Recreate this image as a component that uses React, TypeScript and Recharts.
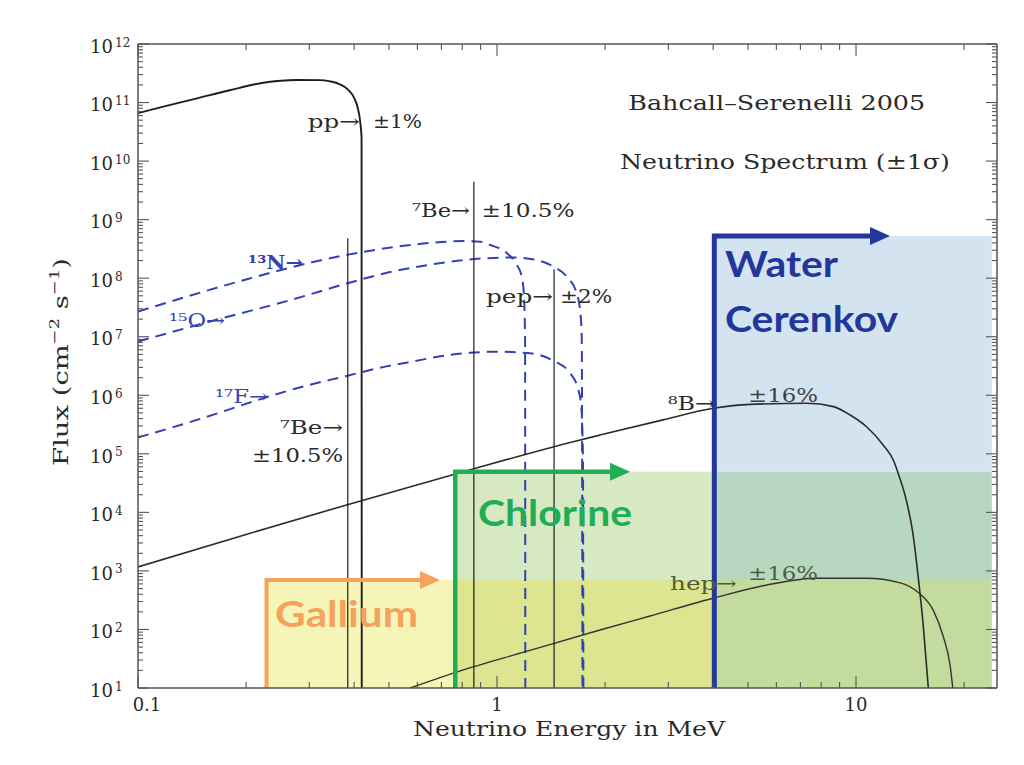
import React from 'react';
import { ComposedChart, Line, XAxis, YAxis, ReferenceArea, ReferenceDot } from 'recharts';

// ---- continuous spectra: energy (MeV) and flux (cm^-2 s^-1 MeV^-1) ----
const ppEnergy = [0.1, 0.1176, 0.146, 0.18, 0.2235, 0.277, 0.32, 0.343, 0.365, 0.385, 0.4, 0.41, 0.416, 0.4195, 0.42];
const ppFlux = [6.6e10, 8.5e10, 1.18e11, 1.62e11, 2.18e11, 2.43e11, 2.42e11, 2.3e11, 2.05e11, 1.65e11, 1.2e11, 7.8e10, 4.6e10, 2.5e10, 10];

const n13Energy = [0.1, 0.2, 0.295, 0.381, 0.5, 0.651, 0.8, 0.9, 0.956, 1.064, 1.135, 1.172, 1.189, 1.197, 1.199];
const n13Flux = [2.7e7, 9.5e7, 1.78e8, 2.5e8, 3.3e8, 4.0e8, 4.3e8, 4.2e8, 3.7e8, 2.7e8, 1.7e8, 1.07e8, 4.8e7, 1.0e7, 10];

const o15Energy = [0.1, 0.173, 0.265, 0.381, 0.5, 0.651, 0.85, 1.1, 1.29, 1.435, 1.563, 1.667, 1.703, 1.722, 1.73];
const o15Flux = [8.3e6, 2.1e7, 4.2e7, 8.1e7, 1.26e8, 1.7e8, 2.1e8, 2.26e8, 2.04e8, 1.58e8, 1.07e8, 5.5e7, 2.9e7, 1.0e7, 10];

const f17Energy = [0.1, 0.15, 0.2235, 0.277, 0.381, 0.472, 0.585, 0.724, 0.841, 1.0, 1.236, 1.435, 1.597, 1.685, 1.714, 1.735, 1.74];
const f17Flux = [1.9e5, 4.0e5, 8.9e5, 1.32e6, 2.14e6, 2.95e6, 3.8e6, 4.8e6, 5.3e6, 5.56e6, 5.2e6, 3.9e6, 2.4e6, 1.23e6, 7.2e5, 1.0e5, 10];

const b8Energy = [0.1, 0.2, 0.381, 0.806, 1.63, 1.935, 2.9, 4.0, 5.06, 7.29, 8.66, 9.63, 10.7, 11.9, 12.7, 13.2, 13.8, 14.4, 14.9, 15.4, 15.9];
const b8Flux = [1.17e3, 4.2e3, 1.34e4, 4.95e4, 1.61e5, 2.09e5, 3.8e5, 6.0e5, 7.0e5, 7.3e5, 6.4e5, 4.6e5, 2.9e5, 1.42e5, 7.85e4, 4.07e4, 1.63e4, 4.4e3, 7.9e2, 1.12e2, 10];

const hepEnergy = [0.573, 0.806, 1.2, 1.935, 2.67, 4.0, 5.64, 7.77, 10.7, 13.2, 15.0, 16.4, 17.5, 18.3, 18.6];
const hepFlux = [10, 20.4, 41.7, 97.7, 170, 341, 575, 748, 748, 631, 415, 214, 75.9, 23.4, 10];

// ---- line spectra (7Be, 7Be, pep): energy (MeV), flux (cm^-2 s^-1) ----
const lineEnergy = [0.384, 0.862, 1.442];
const lineFlux = [4.8e8, 4.45e9, 1.42e8];

// ---- detector thresholds ----
const detectorNames = ['Gallium', 'Chlorine', 'Water Cerenkov'];
const detectorThreshold = [0.228, 0.765, 4.03];
const detectorTop = [700, 4.95e4, 5.26e8];
const detectorArrowEnd = [0.61, 2.065, 10.94];
const detectorFillEnd = 23.9;

// ---- axes ----
const xDomain = [0.1, 24.7];
const yDomain = [10, 1e12];
const xDecades = [0.1, 1, 10];
const yDecades = [1, 2, 3, 4, 5, 6, 7, 8, 9, 10, 11, 12];
const minorSteps = [2, 3, 4, 5, 6, 7, 8, 9];
const xTickLabels = ['0.1', '1', '10'];

const FLOOR = yDomain[0];
const SERIF = "'DejaVu Serif', serif";
const SANS = "Lato, 'Open Sans', sans-serif";
const INK = '#2a2a2a';
const AXIS = '#555';
const CNO = '#3342b0';
const ORANGE = '#f5a25c';
const GREEN = '#1fae55';
const NAVY = '#23379a';

const xTicks: number[] = [];
xDecades.forEach((d) => {
  xTicks.push(d);
  minorSteps.forEach((k) => {
    const v = +(k * d).toPrecision(6);
    if (v <= xDomain[1]) xTicks.push(v);
  });
});
const yTicks: number[] = [];
yDecades.forEach((n) => {
  yTicks.push(Math.pow(10, n));
  if (n < 12) minorSteps.forEach((k) => yTicks.push(k * Math.pow(10, n)));
});

const isMajor = (v: number) => Math.abs(Math.log10(v) - Math.round(Math.log10(v))) < 1e-9;
const zip = (es: number[], fs: number[]) => es.map((e, i) => ({ e, f: fs[i] }));

const LeftTick = (p: any) => {
  const { x, y, payload } = p;
  const v = payload.value;
  const maj = isMajor(v);
  return (
    <g>
      <line x1={x} x2={x + (maj ? 11 : 5)} y1={y} y2={y} stroke={AXIS} strokeWidth={1.1} />
      {maj && (
        <g>
          <text x={x - 25} y={y + 8.7} textAnchor="end" fontFamily={SERIF} fontSize={18} fill={INK}>10</text>
          <text x={x - 23} y={y + 2.5} textAnchor="start" fontFamily={SERIF} fontSize={12} fill={INK}>
            {Math.round(Math.log10(v))}
          </text>
        </g>
      )}
    </g>
  );
};
const RightTick = (p: any) => {
  const { x, y, payload } = p;
  const maj = isMajor(payload.value);
  return <line x1={x} x2={x - (maj ? 11 : 5)} y1={y} y2={y} stroke={AXIS} strokeWidth={1.1} />;
};
const BottomTick = (p: any) => {
  const { x, y, payload } = p;
  const v = payload.value;
  const maj = isMajor(v);
  const idx = xDecades.findIndex((d) => Math.abs(d - v) < 1e-9);
  return (
    <g>
      <line x1={x} x2={x} y1={y} y2={y - (maj ? 12 : 6)} stroke={AXIS} strokeWidth={1.1} />
      {maj && idx >= 0 && (
        <text x={x + (idx === 0 ? 9 : 0)} y={y + 23} textAnchor="middle" fontFamily={SERIF} fontSize={18} fill={INK}>
          {xTickLabels[idx]}
        </text>
      )}
    </g>
  );
};
const TopTick = (p: any) => {
  const { x, y, payload } = p;
  const maj = isMajor(payload.value);
  return <line x1={x} x2={x} y1={y} y2={y + (maj ? 12 : 6)} stroke={AXIS} strokeWidth={1.1} />;
};

type TextOpts = { size?: number; fill?: string; anchor?: string; len?: number; weight?: string | number; family?: string };
const txt = (x: number, y: number, s: React.ReactNode, o: TextOpts = {}) => (
  <text
    x={x}
    y={y}
    fontFamily={o.family ?? SERIF}
    fontSize={o.size ?? 19}
    fill={o.fill ?? INK}
    textAnchor={(o.anchor as any) ?? 'start'}
    textLength={o.len}
    lengthAdjust="spacingAndGlyphs"
    fontWeight={o.weight ?? 'normal'}
  >
    {s}
  </text>
);

const note = (key: string, e: number, f: number, draw: (cx: number, cy: number) => React.ReactNode) => (
  <ReferenceDot
    key={key}
    x={e}
    y={f}
    r={0}
    ifOverflow="visible"
    fill="none"
    stroke="none"
    shape={(p: any) => <g>{draw(p.cx, p.cy)}</g>}
  />
);

export default function App() {
  const [ga, cl, wc] = detectorThreshold;
  const [gaTop, clTop, wcTop] = detectorTop;
  const end = detectorFillEnd;
  const regions = [
    { x1: ga, x2: cl, y1: FLOOR, y2: gaTop, fill: '#f6f5b8' },
    { x1: cl, x2: wc, y1: FLOOR, y2: gaTop, fill: '#dde590' },
    { x1: cl, x2: wc, y1: gaTop, y2: clTop, fill: '#d6e9c3' },
    { x1: wc, x2: end, y1: FLOOR, y2: gaTop, fill: '#c3dc9e' },
    { x1: wc, x2: end, y1: gaTop, y2: clTop, fill: '#b7d7c1' },
    { x1: wc, x2: end, y1: clTop, y2: wcTop, fill: '#d4e3f0' },
  ];
  const detColors = [ORANGE, GREEN, NAVY];
  const detWidths = [4, 4.5, 5];

  const spectra = [
    { key: 'pp', d: zip(ppEnergy, ppFlux), stroke: '#1e1e1e', w: 1.9, dash: undefined },
    { key: 'n13', d: zip(n13Energy, n13Flux), stroke: CNO, w: 2, dash: '11 7' },
    { key: 'o15', d: zip(o15Energy, o15Flux), stroke: CNO, w: 2, dash: '11 7' },
    { key: 'f17', d: zip(f17Energy, f17Flux), stroke: CNO, w: 2, dash: '11 7' },
    { key: 'b8', d: zip(b8Energy, b8Flux), stroke: '#2b2b2b', w: 1.6, dash: undefined },
    { key: 'hep', d: zip(hepEnergy, hepFlux), stroke: '#333', w: 1.4, dash: undefined },
  ];

  return (
    <ComposedChart width={1010} height={750} margin={{ top: 35, right: 20, bottom: 30, left: 70 }}>
      <XAxis
        xAxisId={0}
        dataKey="e"
        type="number"
        scale="log"
        domain={xDomain}
        allowDataOverflow
        ticks={xTicks}
        interval={0}
        tickSize={0}
        tickMargin={0}
        tickLine={false}
        tick={BottomTick}
        axisLine={{ stroke: AXIS, strokeWidth: 1.5 }}
        height={40}
        label={{
          content: (lp: any) => {
            const vb = lp.viewBox || {};
            return (
              <text x={vb.x + vb.width / 2 + 1.5} y={vb.y + 48} textAnchor="middle" fontFamily={SERIF} fontSize={20} fill={INK} textLength={312} lengthAdjust="spacingAndGlyphs">
                Neutrino Energy in MeV
              </text>
            );
          },
        }}
      />
      <XAxis
        xAxisId="t"
        dataKey="e"
        orientation="top"
        type="number"
        scale="log"
        domain={xDomain}
        allowDataOverflow
        ticks={xTicks}
        interval={0}
        tickSize={0}
        tickMargin={0}
        tickLine={false}
        tick={TopTick}
        axisLine={{ stroke: AXIS, strokeWidth: 1.5 }}
        height={1}
      />
      <YAxis
        yAxisId={0}
        type="number"
        scale="log"
        domain={yDomain}
        allowDataOverflow
        ticks={yTicks}
        interval={0}
        tickSize={0}
        tickMargin={0}
        tickLine={false}
        tick={LeftTick}
        axisLine={{ stroke: AXIS, strokeWidth: 1.5 }}
        width={60}
        label={{
          content: (lp: any) => {
            const vb = lp.viewBox || {};
            const cx = vb.x - 17;
            const cy = vb.y + vb.height / 2 - 4;
            return (
              <text x={cx} y={cy} transform={`rotate(-90 ${cx} ${cy})`} textAnchor="middle" dominantBaseline="central" fontFamily={SERIF} fontSize={20} fill={INK} textLength={208} lengthAdjust="spacingAndGlyphs">
                Flux (cm<tspan dy={-7} fontSize={13}>−2</tspan><tspan dy={7}> s</tspan><tspan dy={-7} fontSize={13}>−1</tspan><tspan dy={7}>)</tspan>
              </text>
            );
          },
        }}
      />
      <YAxis
        yAxisId="r"
        orientation="right"
        type="number"
        scale="log"
        domain={yDomain}
        allowDataOverflow
        ticks={yTicks}
        interval={0}
        tickSize={0}
        tickMargin={0}
        tickLine={false}
        tick={RightTick}
        axisLine={{ stroke: AXIS, strokeWidth: 1.5 }}
        width={1}
      />

      {regions.map((r, i) => (
        <ReferenceArea key={`reg${i}`} xAxisId={0} yAxisId={0} x1={r.x1} x2={r.x2} y1={r.y1} y2={r.y2} fill={r.fill} fillOpacity={1} stroke="none" ifOverflow="hidden" />
      ))}

      {spectra.map((s) => (
        <Line
          key={s.key}
          xAxisId={0}
          yAxisId={0}
          data={s.d}
          dataKey="f"
          type="monotone"
          stroke={s.stroke}
          strokeWidth={s.w}
          strokeDasharray={s.dash}
          dot={false}
          activeDot={false}
          isAnimationActive={false}
        />
      ))}

      {lineEnergy.map((e, i) => (
        <Line
          key={`line${i}`}
          xAxisId={0}
          yAxisId={0}
          data={[{ e, f: FLOOR }, { e, f: lineFlux[i] }]}
          dataKey="f"
          type="linear"
          stroke="#1e1e1e"
          strokeWidth={1.2}
          dot={false}
          activeDot={false}
          isAnimationActive={false}
        />
      ))}

      {detectorNames.map((n, i) => (
        <Line
          key={`det${i}`}
          xAxisId={0}
          yAxisId={0}
          data={[
            { e: detectorThreshold[i], f: FLOOR },
            { e: detectorThreshold[i], f: detectorTop[i] },
            { e: detectorArrowEnd[i], f: detectorTop[i] },
          ]}
          dataKey="f"
          type="linear"
          stroke={detColors[i]}
          strokeWidth={detWidths[i]}
          strokeLinejoin="miter"
          dot={false}
          activeDot={false}
          isAnimationActive={false}
        />
      ))}
      {detectorNames.map((n, i) =>
        note(`arrow${i}`, detectorArrowEnd[i], detectorTop[i], (cx, cy) => (
          <polygon points={`${cx},${cy - 9} ${cx + 20},${cy} ${cx},${cy + 9}`} fill={detColors[i]} />
        ))
      )}

      {/* annotations */}
      {note('t1', 2.32, 7.5e10, (x, y) => txt(x, y, 'Bahcall–Serenelli 2005', { size: 20, len: 297 }))}
      {note('t2', 2.2, 7.24e9, (x, y) => txt(x, y, 'Neutrino Spectrum (±1σ)', { size: 20, len: 330 }))}
      {note('pp1', 0.415, 3.63e10, (x, y) => txt(x, y, 'pp→', { anchor: 'end', len: 52 }))}
      {note('pp2', 0.4515, 3.63e10, (x, y) => txt(x, y, '±1%', { len: 49 }))}
      {note('be1', 0.841, 1.12e9, (x, y) => txt(x, y, '⁷Be→', { anchor: 'end', len: 58 }))}
      {note('be2', 0.906, 1.12e9, (x, y) => txt(x, y, '±10.5%', { len: 93 }))}
      {note('pep1', 1.432, 3.73e7, (x, y) => txt(x, y, 'pep→', { anchor: 'end', len: 67 }))}
      {note('pep2', 1.498, 3.73e7, (x, y) => txt(x, y, '±2%', { len: 52 }))}
      {note('be3', 0.3724, 2.18e5, (x, y) => txt(x, y, '⁷Be→', { anchor: 'end', len: 63 }))}
      {note('be4', 0.3724, 7.35e4, (x, y) => txt(x, y, '±10.5%', { anchor: 'end', len: 91 }))}
      {note('n13', 0.2025, 1.42e8, (x, y) => txt(x, y, '¹³N→', { fill: CNO, weight: 'bold', len: 55 }))}
      {note('o15', 0.1221, 1.49e7, (x, y) => txt(x, y, '¹⁵O→', { fill: CNO, len: 56 }))}
      {note('f17', 0.1638, 7.3e5, (x, y) => txt(x, y, '¹⁷F→', { fill: CNO, len: 53 }))}
      {note('b81', 2.995, 5.61e5, (x, y) => txt(x, y, '⁸B→', { len: 47 }))}
      {note('b82', 5.003, 7.78e5, (x, y) => txt(x, y, '±16%', { len: 70, fill: '#3a3f48' }))}
      {note('hep1', 3.033, 473, (x, y) => txt(x, y, 'hep→', { len: 67, fill: '#4f5c3e' }))}
      {note('hep2', 5.003, 700, (x, y) => txt(x, y, '±16%', { len: 70, fill: '#4f5c3e' }))}
      {note('ga', 0.2408, 111.7, (x, y) => txt(x, y, detectorNames[0], { family: SANS, size: 36, weight: 700, fill: ORANGE, len: 143 }))}
      {note('cl', 0.8855, 5.86e3, (x, y) => txt(x, y, detectorNames[1], { family: SANS, size: 36, weight: 700, fill: GREEN, len: 154 }))}
      {note('wc1', 4.316, 1.06e8, (x, y) => txt(x, y, detectorNames[2].split(' ')[0], { family: SANS, size: 36, weight: 700, fill: NAVY, len: 113 }))}
      {note('wc2', 4.316, 1.22e7, (x, y) => txt(x, y, detectorNames[2].split(' ')[1], { family: SANS, size: 36, weight: 700, fill: NAVY, len: 173 }))}
    </ComposedChart>
  );
}
